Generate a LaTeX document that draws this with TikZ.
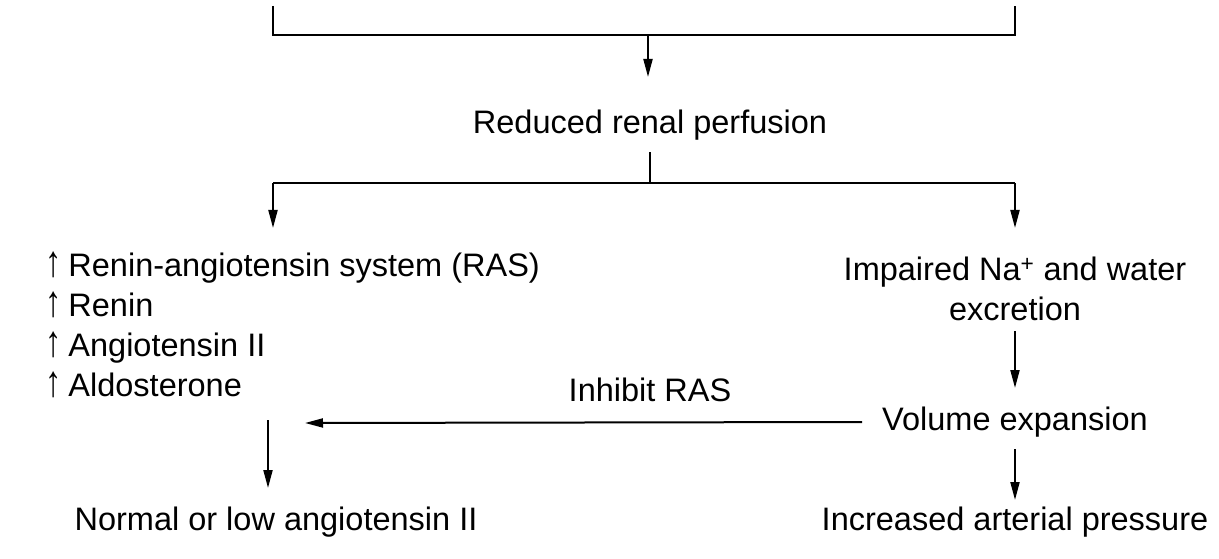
\documentclass[tikz,border=0pt]{standalone}
\usepackage{fontspec}
\setmainfont{Liberation Sans}
\usetikzlibrary{arrows.meta}
\newcommand{\upar}{\smash{\scalebox{1}[1.35]{↑}}\hspace{7pt}}
\tikzset{
  txt/.style={inner sep=0pt, font=\fontsize{32.5}{40}\selectfont},
  ln/.style={line width=2pt},
  arr/.style={line width=2pt, -{Triangle[length=18pt,width=9pt]}},
}
\begin{document}
\begin{tikzpicture}[x=1pt,y=-1pt]
\useasboundingbox (0,0) rectangle (1219,559);
% nodes
\node[txt] (red) at (650,125) {Reduced renal perfusion};
\node[txt, anchor=north west, align=left] (ras) at (45,253)
  {\upar Renin-angiotensin system (RAS)\\\upar Renin\\\upar Angiotensin II\\\upar Aldosterone};
\node[txt, align=center] (imp) at (1015,289) {Impaired Na\textsuperscript{+} and water\\excretion};
\node[txt] (vol) at (1015,422) {Volume expansion};
\node[txt] (inhl) at (650,390) {Inhibit RAS};
\node[txt] (norm) at (276,522) {Normal or low angiotensin II};
\node[txt] (inc) at (1015,522) {Increased arterial pressure};
% coordinates
\coordinate (tl) at (273,6);
\coordinate (tr) at (1015,6);
\coordinate (tm) at (648,35);
\coordinate (bm) at (650,183);
\coordinate (bl) at (273,183);
\coordinate (br) at (1015,183);
\coordinate (inh) at (305,423);
\coordinate (ld) at (268,420);
% top bracket
\draw[ln] (tl) -- (273,35) -- (1015,35) -- (tr);
\draw[arr] (tm) -- (648,77);
% split
\draw[ln] (red.south -| bm) ++(0,12) -- (bm);
\draw[ln] (bl) -- (br);
\draw[arr] (bl) -- (273,228);
\draw[arr] (br) -- (1015,228);
% right chain
\draw[arr] (imp.south) ++(0,10) -- (1015,388);
\draw[arr] (vol.south) ++(0,12) -- (1015,500);
% inhibit
\draw[arr] ([xshift=-20pt]vol.west) -- (inh);
% left down
\draw[arr] (ld) -- (268,488);
\end{tikzpicture}
\end{document}
